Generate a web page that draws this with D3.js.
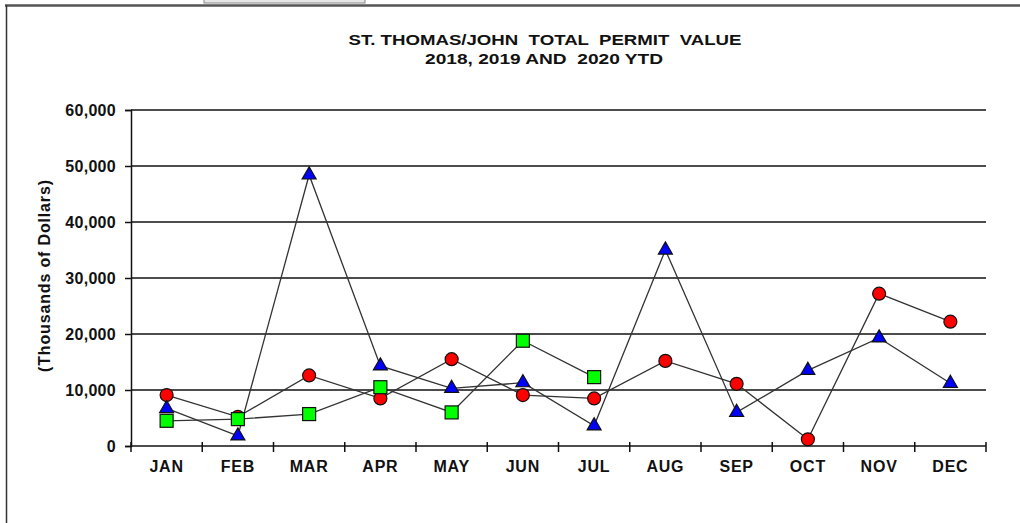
<!DOCTYPE html>
<html>
<head>
<meta charset="utf-8">
<script src="https://cdn.jsdelivr.net/npm/d3@7"></script>
<style>
  body { margin: 0; background: #fff; }
  svg { display: block; }
  text { font-family: "Liberation Sans", Arial, sans-serif; font-weight: bold; fill: #111; white-space: pre; }
</style>
</head>
<body>
<div id="chart"></div>
<script>
// data (thousands of dollars)
const months = ["JAN","FEB","MAR","APR","MAY","JUN","JUL","AUG","SEP","OCT","NOV","DEC"];
const yTicks = [0, 10000, 20000, 30000, 40000, 50000, 60000];
const red = [9100, 5200, 12600, 8500, 15500, 9100, 8500, 15200, 11100, 1200, 27200, 22200];
const blue = [6700, 1800, 48400, 14300, 10300, 11300, 3600, 35000, 6000, 13500, 19300, 11200];
const green = [4500, 4800, 5700, 10500, 6000, 18800, 12300];

const width = 1020, height = 523;
const svg = d3.select('#chart').append('svg')
  .attr('width', width).attr('height', height);

// frame
svg.append('rect').attr('x', 204).attr('y', -2).attr('width', 161).attr('height', 5)
  .attr('fill', '#e6e6e6').attr('stroke', '#888');
svg.append('line').attr('x1', 5).attr('x2', width).attr('y1', 5.5).attr('y2', 5.5)
  .attr('stroke', '#555').attr('stroke-width', 2.5);
svg.append('line').attr('x1', 6.5).attr('x2', 6.5).attr('y1', 5).attr('y2', height)
  .attr('stroke', '#333').attr('stroke-width', 1.5);

// title
svg.append('text').attr('x', 545).attr('y', 44.5).attr('text-anchor', 'middle')
  .style('font-size', '15.5px').attr('textLength', 393).attr('lengthAdjust', 'spacingAndGlyphs')
  .text('ST. THOMAS/JOHN  TOTAL  PERMIT  VALUE');
svg.append('text').attr('x', 544).attr('y', 63.5).attr('text-anchor', 'middle')
  .style('font-size', '15.5px').attr('textLength', 238).attr('lengthAdjust', 'spacingAndGlyphs')
  .text('2018, 2019 AND  2020 YTD');

const x = d3.scaleBand().domain(months).range([131, 986]);
const y = d3.scaleLinear().domain([0, 60000]).range([446, 110]);

// gridlines
svg.append('g').selectAll('line').data(yTicks.slice(1)).enter().append('line')
  .attr('x1', 131).attr('x2', 986)
  .attr('y1', d => y(d)).attr('y2', d => y(d))
  .attr('stroke', '#111').attr('stroke-width', 1.5);

// y axis
const yAxis = svg.append('g').attr('transform', 'translate(131,0)')
  .call(d3.axisLeft(y).tickValues(yTicks).tickFormat(d3.format(',')).tickSize(6).tickPadding(9));
yAxis.select('.domain').attr('stroke', '#111').attr('stroke-width', 1.5);
yAxis.selectAll('.tick line').attr('stroke', '#111').attr('stroke-width', 1.5);
yAxis.selectAll('text').style('font-size', '16px').style('letter-spacing', '0.3px')
  .attr('fill', '#222').attr('font-family', null);

// x axis
const bounds = d3.range(0, 13).map(i => 131 + i * x.step());
svg.append('line').attr('x1', 131).attr('x2', 986).attr('y1', 446).attr('y2', 446)
  .attr('stroke', '#111').attr('stroke-width', 1.5);
svg.append('g').selectAll('line').data(bounds).enter().append('line')
  .attr('x1', d => d).attr('x2', d => d).attr('y1', 442).attr('y2', 452)
  .attr('stroke', '#111').attr('stroke-width', 1.5);
svg.append('g').selectAll('text').data(months).enter().append('text')
  .attr('x', d => x(d) + x.bandwidth() / 2).attr('y', 472)
  .attr('text-anchor', 'middle').style('font-size', '16px').style('letter-spacing', '0.8px')
  .attr('fill', '#222')
  .text(d => d);

// y label
svg.append('text').attr('transform', 'translate(49.5,276) rotate(-90)')
  .attr('text-anchor', 'middle').style('font-size', '16px')
  .attr('textLength', 192).attr('lengthAdjust', 'spacing').attr('fill', '#222')
  .text('(Thousands of Dollars)');

const cx = (d, i) => x(months[i]) + x.bandwidth() / 2;
const line = d3.line().x(cx).y(d => y(d));

function drawLine(data) {
  svg.append('path').datum(data).attr('d', line)
    .attr('fill', 'none').attr('stroke', '#333').attr('stroke-width', 1.3);
}
drawLine(red);
drawLine(blue);
drawLine(green);

// markers (red under blue under green)
svg.append('g').selectAll('circle').data(red).enter().append('circle')
  .attr('cx', cx).attr('cy', d => y(d)).attr('r', 6.5)
  .attr('fill', '#ff0000').attr('stroke', '#111').attr('stroke-width', 1.2);
const tri = d3.symbol().type(d3.symbolTriangle).size(85);
svg.append('g').selectAll('path').data(blue).enter().append('path')
  .attr('d', tri)
  .attr('transform', (d, i) => `translate(${cx(d, i)},${y(d)})`)
  .attr('fill', '#0000ff').attr('stroke', '#111').attr('stroke-width', 1.2);
svg.append('g').selectAll('rect').data(green).enter().append('rect')
  .attr('x', (d, i) => cx(d, i) - 6.5).attr('y', d => y(d) - 6.5)
  .attr('width', 13).attr('height', 13)
  .attr('fill', '#00ff00').attr('stroke', '#111').attr('stroke-width', 1.2);
</script>
</body>
</html>
